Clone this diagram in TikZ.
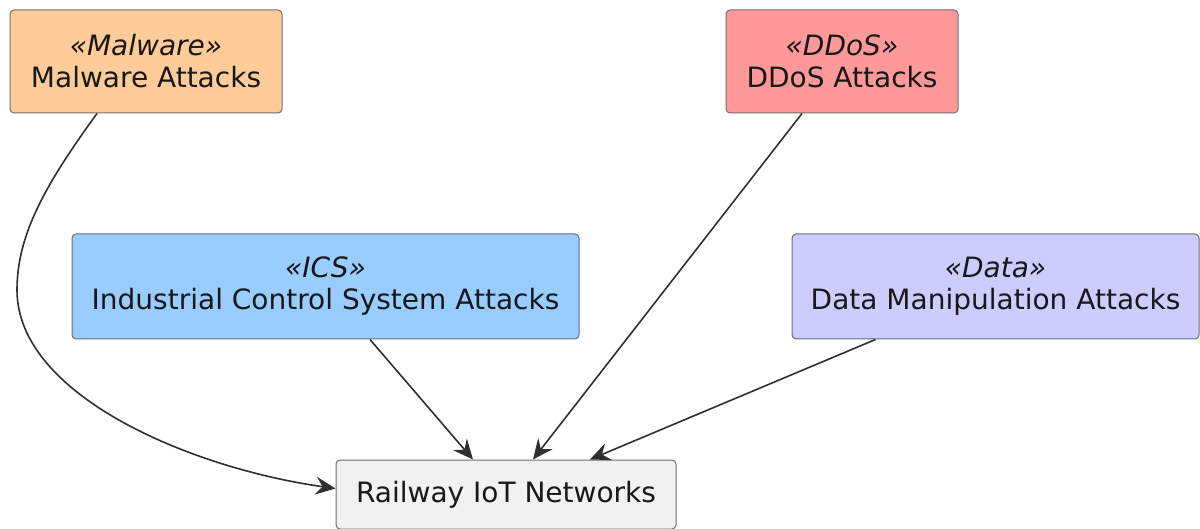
\documentclass[tikz,border=0pt]{standalone}
\usepackage{fontspec}
\setmainfont{DejaVu Sans}
\usetikzlibrary{arrows.meta,calc}
\definecolor{malwarec}{HTML}{FFCC99}
\definecolor{ddosc}{HTML}{FF9999}
\definecolor{icsc}{HTML}{99CCFF}
\definecolor{datac}{HTML}{CCCCFF}
\definecolor{railc}{HTML}{F1F1F1}
\definecolor{linec}{HTML}{181818}
\definecolor{borderc}{HTML}{6E6E6E}
\tikzset{
  box/.style={draw=borderc, line width=1pt, rounded corners=4pt, align=center,
    inner sep=0pt, text=linec, font=\fontsize{28}{32}\selectfont},
  conn/.style={draw=linec!90!white, line width=1.6pt,
    -{Stealth[length=20pt,width=18pt,inset=7pt]}},
}
\newcommand{\stereo}[1]{{\itshape «#1»}}
\begin{document}
\begin{tikzpicture}[x=1pt,y=-1pt]
\useasboundingbox (0,0) rectangle (1200,529);
\node[box, fill=malwarec, minimum width=272pt, minimum height=103pt] (malware) at (146,61.5)
  {\stereo{Malware}\\Malware Attacks};
\node[box, fill=ddosc, minimum width=232pt, minimum height=103pt] (ddos) at (842,61.5)
  {\stereo{DDoS}\\DDoS Attacks};
\node[box, fill=icsc, minimum width=507pt, minimum height=105pt] (ics) at (325.5,286.5)
  {\stereo{ICS}\\Industrial Control System Attacks};
\node[box, fill=datac, minimum width=407pt, minimum height=105pt] (data) at (995.5,286.5)
  {\stereo{Data}\\Data Manipulation Attacks};
\node[box, fill=railc, minimum width=340pt, minimum height=69pt] (rail) at (506,494.5)
  {Railway IoT Networks};
\draw[conn] ($(malware.south)+(-49,0)$) .. controls (45,185) and (17,235) .. (17,290)
  .. controls (17,395) and (190,468) .. ($(rail.west)+(0,-6)$);
\draw[conn] ($(ddos.south)+(-40,0)$) -- ($(rail.north)+(27,0)$);
\draw[conn] ($(ics.south)+(44.5,0)$) -- ($(rail.north)+(-33,0)$);
\draw[conn] ($(data.south)+(-120,0)$) -- ($(rail.north)+(84,0)$);
\end{tikzpicture}
\end{document}
